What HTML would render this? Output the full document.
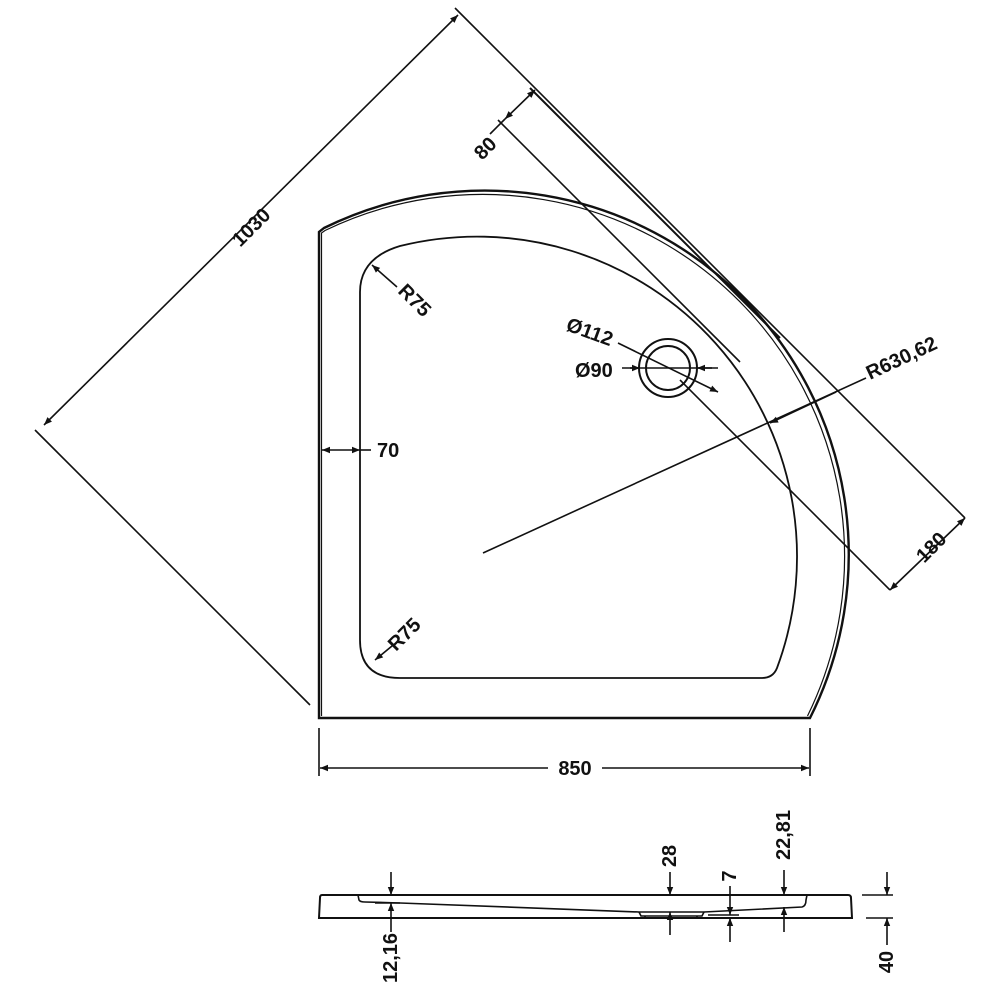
<!DOCTYPE html>
<html><head><meta charset="utf-8"><style>
html,body{margin:0;padding:0;background:#fff;}
svg{display:block;}
text{font-family:"Liberation Sans",sans-serif;font-weight:bold;font-size:20px;fill:#111;}
</style></head><body>
<svg width="1000" height="1000" viewBox="0 0 1000 1000" xmlns="http://www.w3.org/2000/svg">
<defs>
<marker id="a" viewBox="0 0 10 10" refX="10" refY="5" markerWidth="7" markerHeight="5" orient="auto-start-reverse"><path d="M0,1 L10,5 L0,9 z" fill="#111"/></marker>
</defs>
<g fill="none" stroke="#111" stroke-width="1.6">
<path d="M319,718 L319,232 L324,228 A364,364 0 0 1 810,718 Z" stroke-width="2.4"/>
<path d="M321.5,716 L321.5,233 L325,230.5 A362,362 0 0 1 807.5,716" stroke-width="1.2"/>
<path d="M360,640 L360,292 Q360,258 400,246 A320,320 0 0 1 777,668 Q773,678 762,678 L400,678 Q360,678 360,640 Z" stroke-width="1.8"/>
<circle cx="668" cy="368" r="29" stroke-width="2"/>
<circle cx="668" cy="368" r="22" stroke-width="2"/>
<line x1="35" y1="430" x2="310" y2="705"/>
<line x1="455" y1="8" x2="965" y2="518"/>
<line x1="44" y1="425" x2="458" y2="15" marker-start="url(#a)" marker-end="url(#a)"/>
<line x1="530" y1="88" x2="780" y2="338" stroke-width="2"/>
<line x1="498" y1="120" x2="740" y2="362"/>
<line x1="490" y1="134" x2="505" y2="119"/>
<line x1="505" y1="119" x2="535" y2="90" marker-start="url(#a)" marker-end="url(#a)"/>
<line x1="680" y1="380" x2="890" y2="590"/>
<line x1="890" y1="590" x2="965" y2="518" marker-start="url(#a)" marker-end="url(#a)"/>
<line x1="483" y1="553" x2="866" y2="378"/>
<line x1="770" y1="423" x2="836" y2="392" marker-start="url(#a)"/>
<line x1="618" y1="343" x2="718" y2="392" marker-end="url(#a)"/>
<line x1="622" y1="368" x2="718" y2="368"/>
<line x1="630" y1="368" x2="640" y2="368" marker-end="url(#a)"/>
<line x1="712" y1="368" x2="697" y2="368" marker-end="url(#a)"/>
<line x1="322" y1="450" x2="360" y2="450" marker-start="url(#a)" marker-end="url(#a)"/>
<line x1="360" y1="450" x2="371" y2="450"/>
<line x1="372" y1="265" x2="397" y2="287" marker-start="url(#a)"/>
<line x1="375" y1="660" x2="392" y2="646" marker-start="url(#a)"/>
<line x1="319" y1="728" x2="319" y2="776"/>
<line x1="810" y1="728" x2="810" y2="776"/>
<line x1="320" y1="768" x2="548" y2="768" marker-start="url(#a)"/>
<line x1="602" y1="768" x2="809" y2="768" marker-end="url(#a)"/>
<path d="M322,895 L848,895 Q851,895 851,898 L852,918 L319,918 L320,898 Q320,895 322,895 Z" stroke-width="2"/>
<path d="M358,895 L359,900 Q360,902 365,902 L400,903 L639,912 L704,912 L802,907 Q806,906 806,900 L807,895"/>
<path d="M639,912 L641,916 L702,916 L704,912 M645,916 L645,918 M697,916 L697,918"/>
<line x1="708" y1="915" x2="739" y2="915"/>
<line x1="391" y1="872" x2="391" y2="895" marker-end="url(#a)"/>
<line x1="391" y1="932" x2="391" y2="903" marker-end="url(#a)"/>
<line x1="375" y1="903" x2="400" y2="903"/>
<line x1="670" y1="872" x2="670" y2="895" marker-end="url(#a)"/>
<line x1="670" y1="935" x2="670" y2="912" marker-end="url(#a)"/>
<line x1="730" y1="886" x2="730" y2="915" marker-end="url(#a)"/>
<line x1="730" y1="942" x2="730" y2="918" marker-end="url(#a)"/>
<line x1="784" y1="870" x2="784" y2="895" marker-end="url(#a)"/>
<line x1="784" y1="932" x2="784" y2="907" marker-end="url(#a)"/>
<line x1="862" y1="895" x2="893" y2="895"/>
<line x1="866" y1="918" x2="893" y2="918"/>
<line x1="887" y1="872" x2="887" y2="895" marker-end="url(#a)"/>
<line x1="887" y1="945" x2="887" y2="918" marker-end="url(#a)"/>
</g>
<text transform="translate(256,232) rotate(-45)" text-anchor="middle">1030</text>
<text transform="translate(490,153) rotate(-45)" text-anchor="middle">80</text>
<text transform="translate(936,552) rotate(-45)" text-anchor="middle">180</text>
<text transform="translate(870,380) rotate(-25)">R630,62</text>
<text transform="translate(565,330) rotate(20)">Ø112</text>
<text x="575" y="377">Ø90</text>
<text x="377" y="457">70</text>
<text transform="translate(397,292) rotate(45)">R75</text>
<text transform="translate(396,652) rotate(-45)">R75</text>
<text x="575" y="775" text-anchor="middle">850</text>
<text transform="translate(397,958) rotate(-90)" text-anchor="middle">12,16</text>
<text transform="translate(676,856) rotate(-90)" text-anchor="middle">28</text>
<text transform="translate(736,876) rotate(-90)" text-anchor="middle">7</text>
<text transform="translate(790,835) rotate(-90)" text-anchor="middle">22,81</text>
<text transform="translate(893,962) rotate(-90)" text-anchor="middle">40</text>
</svg>
</body></html>
